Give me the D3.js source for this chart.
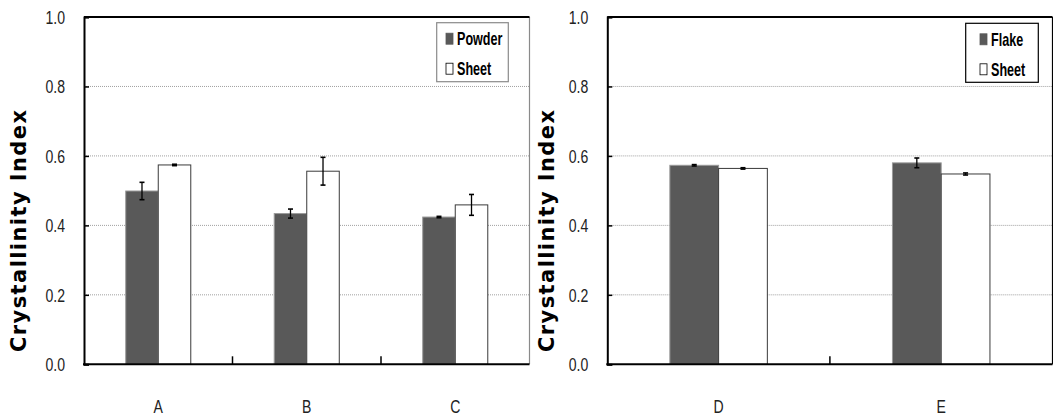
<!DOCTYPE html>
<html>
<head>
<meta charset="utf-8">
<script src="https://cdn.jsdelivr.net/npm/d3@7"></script>
<style>
body { margin: 0; background: #fff; }
svg { display: block; }
.tick-lbl { font-family: "Liberation Sans", Arial, sans-serif; font-size: 19px; fill: #222; }
.leg-lbl { font-family: "Liberation Sans", Arial, sans-serif; font-size: 18px; font-weight: bold; fill: #000; }
.ylab { font-family: "DejaVu Sans", Verdana, sans-serif; font-size: 21px; font-weight: bold; fill: #000; }
</style>
</head>
<body>
<svg width="1053" height="417"></svg>
<script>
// values
var yTicks = [0, 0.2, 0.4, 0.6, 0.8, 1.0];

var leftCats = ["A", "B", "C"];
var powderVals = [0.499, 0.434, 0.424];
var powderErr = [0.025, 0.013, 0.002];
var sheetLVals = [0.574, 0.556, 0.459];
var sheetLErr = [0.002, 0.040, 0.030];

var rightCats = ["D", "E"];
var flakeVals = [0.573, 0.580];
var flakeErr = [0.002, 0.014];
var sheetRVals = [0.564, 0.548];
var sheetRErr = [0.002, 0.003];

var svg = d3.select("svg");

// narrow text: squeeze a normal font horizontally
function narrow(sel, x, y, sx) {
  return sel.attr("transform", "translate(" + x + "," + y + ") scale(" + sx + ",1)");
}

function drawChart(o) {
  var g = svg.append("g");
  var x = d3.scaleBand().domain(o.cats).range([o.x0, o.x1]).padding(0);
  var y = d3.scaleLinear().domain([0, 1]).range([o.y1, o.y0]);
  var bw = x.bandwidth() * 0.219;
  var sub = d3.scaleBand().domain([0, 1])
    .range([x.bandwidth() / 2 - bw, x.bandwidth() / 2 + bw]);

  // dotted gridlines
  g.selectAll(".grid").data(yTicks.filter(function(t) { return t > 0 && t < 1; }))
    .enter().append("line")
    .attr("x1", o.x0).attr("x2", o.x1)
    .attr("y1", function(d) { return y(d); }).attr("y2", function(d) { return y(d); })
    .attr("stroke", "#a0a0a0").attr("stroke-width", 1).attr("stroke-dasharray", "1,1");

  // right frame
  g.append("line").attr("x1", o.x1).attr("x2", o.x1).attr("y1", o.y0).attr("y2", o.y1)
    .attr("stroke", o.rightCol).attr("stroke-width", 1.2);

  // bars
  var series = [
    { vals: o.s1, err: o.e1, fill: "#595959", stroke: "#9a9a9a" },
    { vals: o.s2, err: o.e2, fill: "#ffffff", stroke: "#3a3a3a" }
  ];
  series.forEach(function(s, si) {
    o.cats.forEach(function(c, i) {
      var bx = x(c) + sub(si);
      g.append("rect")
        .attr("x", bx).attr("y", y(s.vals[i]))
        .attr("width", sub.bandwidth()).attr("height", y(0) - y(s.vals[i]))
        .attr("fill", s.fill).attr("stroke", s.stroke).attr("stroke-width", 1);
      var cx = bx + sub.bandwidth() / 2;
      var lo = y(s.vals[i] - s.err[i]), hi = y(s.vals[i] + s.err[i]);
      g.append("line").attr("x1", cx).attr("x2", cx).attr("y1", lo).attr("y2", hi)
        .attr("stroke", "#000").attr("stroke-width", 1.3);
      [lo, hi].forEach(function(yy) {
        g.append("line").attr("x1", cx - 2.5).attr("x2", cx + 2.5).attr("y1", yy).attr("y2", yy)
          .attr("stroke", "#000").attr("stroke-width", 1.6);
      });
    });
  });

  // top frame
  g.append("line").attr("x1", o.x0).attr("x2", o.x1).attr("y1", o.y0).attr("y2", o.y0)
    .attr("stroke", "#000").attr("stroke-width", 2);

  // y axis
  var ya = g.append("g").attr("transform", "translate(" + o.x0 + ",0)")
    .call(d3.axisRight(y).tickValues(yTicks).tickSize(5).tickFormat(""));
  ya.select(".domain").attr("stroke", "#000").attr("stroke-width", 2);
  ya.selectAll(".tick line").attr("stroke", "#000").attr("stroke-width", 1.5);
  g.selectAll(".ylbl").data(yTicks).enter().append("text")
    .attr("class", "tick-lbl")
    .each(function(d) { narrow(d3.select(this), o.x0 - 19, y(d), 0.74); })
    .attr("dy", "0.35em").attr("text-anchor", "end")
    .text(function(d) { return d3.format(".1f")(d); });

  // x axis, ticks between categories
  var bounds = o.cats.slice(1).map(function(c) { return x(c); });
  g.selectAll(".xsep").data(bounds).enter().append("line")
    .attr("x1", function(d) { return d; }).attr("x2", function(d) { return d; })
    .attr("y1", o.y1).attr("y2", o.y1 - 8)
    .attr("stroke", "#000").attr("stroke-width", 1.5);
  g.append("line").attr("x1", o.x0 - 1).attr("x2", o.x1).attr("y1", o.y1).attr("y2", o.y1)
    .attr("stroke", "#000").attr("stroke-width", 2);
  g.selectAll(".xlbl").data(o.cats).enter().append("text")
    .attr("class", "tick-lbl")
    .each(function(d) { narrow(d3.select(this), x(d) + x.bandwidth() / 2, 406, 0.74); })
    .attr("dy", "0.35em").attr("text-anchor", "middle")
    .text(function(d) { return d; });

  // y label
  g.append("text").attr("class", "ylab")
    .attr("transform", "translate(" + o.labX + ",231) rotate(-90)")
    .attr("text-anchor", "middle").attr("dy", "0.35em")
    .attr("textLength", 242).attr("lengthAdjust", "spacing")
    .text("Crystallinity Index");

  // legend
  var lg = g.append("g").attr("transform", "translate(" + o.legX + "," + o.legY + ")");
  lg.append("rect").attr("x", 0).attr("y", 0).attr("width", o.legW).attr("height", 59)
    .attr("fill", "#fff").attr("stroke", o.legStroke).attr("stroke-width", 1.2);
  o.names.forEach(function(n, i) {
    var yy = 10.5 + i * 30;
    lg.append("rect").attr("x", o.swX).attr("y", yy).attr("width", 7).attr("height", 11)
      .attr("fill", i === 0 ? "#595959" : "#fff")
      .attr("stroke", i === 0 ? "#595959" : "#000").attr("stroke-width", 0.8);
    narrow(lg.append("text").attr("class", "leg-lbl"), o.swX + 11, yy + 12, 0.7).text(n);
  });
}

drawChart({
  cats: leftCats, s1: powderVals, e1: powderErr, s2: sheetLVals, e2: sheetLErr,
  names: ["Powder", "Sheet"],
  x0: 84, x1: 529.5, y0: 17, y1: 364.3, rightCol: "#8a8a8a",
  labX: 19, legX: 436.7, legY: 22.7, legW: 71.6, swX: 9.3, legStroke: "#8a8a8a"
});

drawChart({
  cats: rightCats, s1: flakeVals, e1: flakeErr, s2: sheetRVals, e2: sheetRErr,
  names: ["Flake", "Sheet"],
  x0: 607.3, x1: 1052.5, y0: 17, y1: 364.3, rightCol: "#000",
  labX: 547, legX: 965.7, legY: 23.3, legW: 72.6, swX: 14.3, legStroke: "#000"
});
</script>
</body>
</html>
